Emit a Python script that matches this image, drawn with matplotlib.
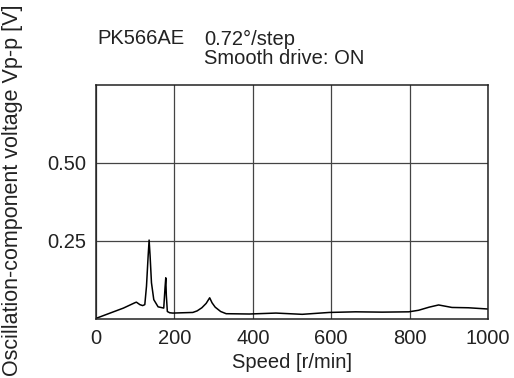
import matplotlib
matplotlib.use("Agg")
import matplotlib.pyplot as plt

plt.rcParams['font.family'] = ['Liberation Sans', 'DejaVu Sans']

speed = [0, 36, 70, 99, 103, 112, 119, 124.5, 128.8, 133, 135.5, 138, 141.5, 147.4,
         158.4, 172.8, 176.2, 178, 179.4, 182, 188, 196, 247, 258, 270, 281, 290, 296,
         304, 318, 332, 391, 459, 526, 595, 662, 730, 798, 823, 850, 874, 908, 950, 1000]
voltage = [0.002, 0.019, 0.035, 0.052, 0.054, 0.046, 0.043, 0.046, 0.105, 0.202, 0.253,
           0.202, 0.116, 0.062, 0.039, 0.035, 0.102, 0.132, 0.076, 0.024, 0.020, 0.019,
           0.021, 0.026, 0.036, 0.050, 0.068, 0.052, 0.038, 0.024, 0.017, 0.016, 0.019,
           0.015, 0.021, 0.023, 0.022, 0.023, 0.028, 0.038, 0.045, 0.037, 0.036, 0.032]

xticks = [0, 200, 400, 600, 800, 1000]
yticks = [0.25, 0.50]
ytick_labels = ["0.25", "0.50"]

W, H = 514, 378
fig = plt.figure(figsize=(W / 100, H / 100), dpi=100)
ax = fig.add_axes([96 / W, 1 - 319 / H, (488 - 96) / W, (319 - 85) / H])

ax.plot(speed, voltage, color='black', lw=1.1)
ax.set_xlim(0, 1000)
ax.set_ylim(0, 0.75)
ax.set_xticks(xticks)
ax.set_xticklabels([str(t) for t in xticks])
ax.set_yticks(yticks)
ax.set_yticklabels(ytick_labels)
ax.tick_params(length=0, labelsize=14.5, pad=7, colors='#222222')
ax.grid(True, color='#444444', lw=0.9)
for s in ax.spines.values():
    s.set_color('#222222')
    s.set_linewidth(1.1)

ax.set_xlabel('Speed [r/min]', fontsize=14.5, color='#222222', labelpad=4)
fig.text(13 / W, 1 - 190 / H, 'Oscillation-component voltage Vp-p [V]', rotation=90,
         fontsize=15.5, color='#222222', ha='center', va='center')

fig.text(97 / W, 1 - 39 / H, 'PK566AE', fontsize=14.5, color='#222222', va='center')
fig.text(204 / W, 1 - 39 / H, '0.72°/step', fontsize=14.5, color='#222222', va='center')
fig.text(204 / W, 1 - 59 / H, 'Smooth drive: ON', fontsize=14.5, color='#222222', va='center')

fig.savefig('out.png', dpi=100)
